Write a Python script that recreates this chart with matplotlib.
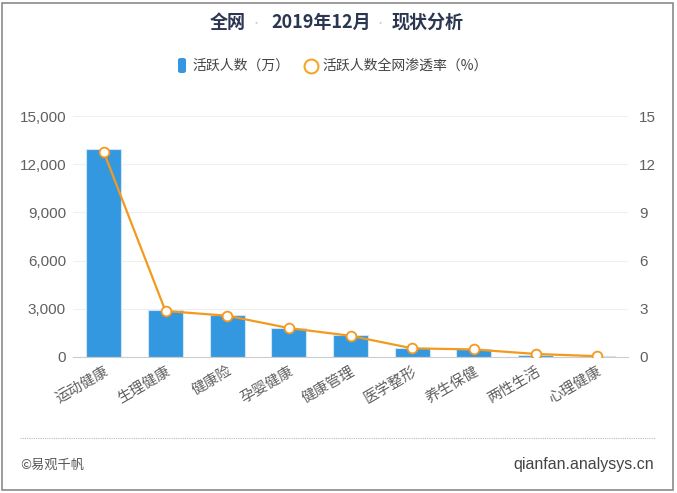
import matplotlib.pyplot as plt
import numpy as np
from matplotlib.patches import FancyBboxPatch, Rectangle
from matplotlib.lines import Line2D

plt.rcParams['font.family'] = ['Noto Sans CJK SC', 'DejaVu Sans']

categories = ['运动健康', '生理健康', '健康险', '孕婴健康', '健康管理',
              '医学整形', '养生保健', '两性生活', '心理健康']
active_users = [12950, 2930, 2620, 1810, 1370, 560, 480, 120, 40]  # 万
penetration = [12.75, 2.86, 2.57, 1.80, 1.32, 0.54, 0.47, 0.19, 0.05]  # %

left_ticks = [0, 3000, 6000, 9000, 12000, 15000]
right_ticks = [0, 3, 6, 9, 12, 15]

W, H = 677, 493
fig = plt.figure(figsize=(W / 100, H / 100), dpi=100)

# frame around picture
fig.patches.append(Rectangle((2 / W, 3 / H), 671 / W, 487 / H, transform=fig.transFigure,
                             fill=False, edgecolor='#8a8a8a', linewidth=1.2))

num_font = ['Liberation Sans', 'DejaVu Sans']

ax1 = fig.add_axes([73 / W, 1 - 357 / H, 555 / W, 241 / H])
x = np.arange(len(categories))
ax1.bar(x, active_users, width=0.57, color='#3498e0', edgecolor='#cfe6f8', linewidth=0.8, zorder=2)
ax1.set_xlim(-0.5, len(categories) - 0.5)
ax1.set_ylim(0, 15000)
ax1.set_yticks(left_ticks)
ax1.set_yticklabels([f'{v:,}' for v in left_ticks], family=num_font)
ax1.grid(axis='y', color='#f0f0f0', linewidth=0.8, zorder=0)
for s in ['top', 'right', 'left']:
    ax1.spines[s].set_visible(False)
ax1.spines['bottom'].set_color('#cccccc')
ax1.tick_params(axis='y', length=0, pad=5, labelsize=11, labelcolor='#606060')
ax1.tick_params(axis='x', length=0, pad=5, labelsize=10.5, labelcolor='#606060')
ax1.set_xticks(x)
ax1.set_xticklabels(categories, rotation=30, ha='right', rotation_mode='anchor')

ax2 = ax1.twinx()
ax2.plot(x, penetration, color='#f39a1e', linewidth=1.6, marker='o', markersize=7,
         markerfacecolor='white', markeredgecolor='#f39a1e', markeredgewidth=1.3, zorder=3)
ax2.set_ylim(0, 15)
ax2.set_yticks(right_ticks)
ax2.set_yticklabels([str(v) for v in right_ticks], family=num_font)
for s in ['top', 'right', 'left', 'bottom']:
    ax2.spines[s].set_visible(False)
ax2.tick_params(axis='y', length=0, pad=8, labelsize=11, labelcolor='#606060')

# title
tc = '#2b3652'
fig.text(228 / W, 1 - 22 / H, '全网', ha='center', va='center', fontsize=13, fontweight='bold', color=tc)
fig.text(256 / W, 1 - 24 / H, '•', ha='center', va='center', fontsize=8, color='#d0d0d0')
fig.text(321 / W, 1 - 22 / H, '2019年12月', ha='center', va='center', fontsize=13, fontweight='bold', color=tc)
fig.text(380 / W, 1 - 24 / H, '•', ha='center', va='center', fontsize=8, color='#d0d0d0')
fig.text(428 / W, 1 - 22 / H, '现状分析', ha='center', va='center', fontsize=13, fontweight='bold', color=tc)

# legend
fig.patches.append(FancyBboxPatch((178 / W, 1 - 73 / H), 8 / W, 15 / H,
                                  boxstyle='round,pad=0,rounding_size=0.004',
                                  transform=fig.transFigure, facecolor='#3498e0', edgecolor='none'))
fig.text(192 / W, 1 - 66 / H, '活跃人数（万）', ha='left', va='center', fontsize=10, color='#444444')
fig.lines.append(Line2D([311 / W], [1 - 66 / H], transform=fig.transFigure, marker='o', markersize=10,
                        markerfacecolor='white', markeredgecolor='#f5a623', markeredgewidth=1.5))
fig.text(322 / W, 1 - 66 / H, '活跃人数全网渗透率（%）', ha='left', va='center', fontsize=10, color='#444444')

# footer
fig.lines.append(Line2D([20 / W, 655 / W], [1 - 438 / H, 1 - 438 / H], transform=fig.transFigure,
                        color='#bbbbbb', linewidth=0.8, linestyle=(0, (1, 1))))
fig.text(20 / W, 1 - 465 / H, '©易观千帆', ha='left', va='center', fontsize=9.5, color='#555555')
fig.text(654 / W, 1 - 465 / H, 'qianfan.analysys.cn', ha='right', va='center', fontsize=11.5,
         color='#444444', family=num_font)

fig.savefig('out.png', dpi=100)
